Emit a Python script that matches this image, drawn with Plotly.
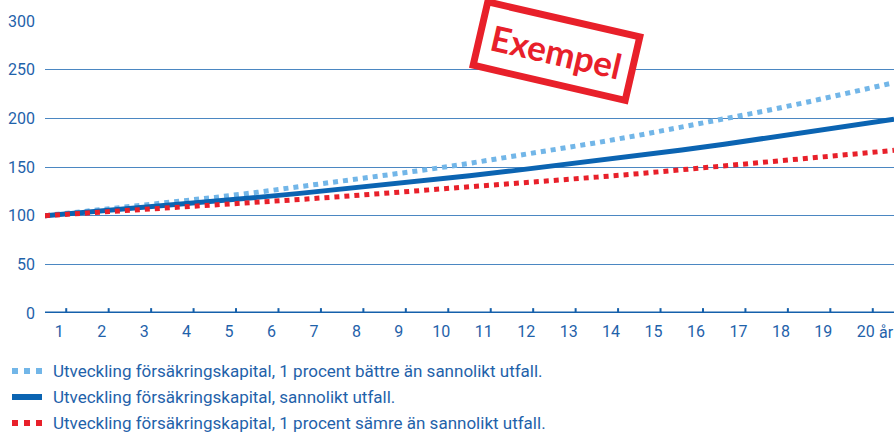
import plotly.graph_objects as go

years = list(range(0, 21))
better = [100, 104.4, 109.0, 113.8, 118.8, 124.0, 129.5, 135.2, 141.1, 147.3, 153.8,
          160.6, 167.6, 175.0, 182.7, 190.8, 199.1, 207.9, 217.1, 226.6, 236.6]
likely = [100, 103.5, 107.1, 110.9, 114.8, 118.8, 122.9, 127.2, 131.7, 136.3, 141.1,
          146.0, 151.1, 156.4, 161.9, 167.5, 173.4, 179.5, 185.7, 192.2, 199.0]
worse = [100, 102.6, 105.3, 108.0, 110.8, 113.7, 116.6, 119.7, 122.8, 126.0, 129.3,
         132.6, 136.1, 139.6, 143.2, 147.0, 150.8, 154.7, 158.7, 162.8, 167.1]
tick_labels = [str(i) for i in range(1, 21)]
tick_pos = [i + 0.5 for i in range(20)]
y_ticks = [0, 50, 100, 150, 200, 250, 300]

names = ["Utveckling försäkringskapital, 1 procent bättre än sannolikt utfall.",
         "Utveckling försäkringskapital, sannolikt utfall.",
         "Utveckling försäkringskapital, 1 procent sämre än sannolikt utfall."]
series = [better, likely, worse]
colors = ["#72b6e8", "#0b64b2", "#e8202a"]
dashes = ["5px,5px", "solid", "5px,5px"]
legend_dashes = ["6px,6px", "solid", "6px,6px"]

TXT = "#1f62aa"
W, H = 895, 433
L, R, T, B = 45, 1, 21, 120
PW, PH = W - L - R, H - T - B


def px_x(px):
    return (px - L) / PW


def px_y(py):
    return (H - B - py) / PH


fig = go.Figure()
for name, vals, col, dsh in zip(names, series, colors, dashes):
    fig.add_trace(go.Scatter(x=years, y=vals, mode="lines", name=name,
                             line=dict(color=col, width=5, dash=dsh)))

fig.update_layout(
    width=W, height=H,
    margin=dict(l=L, r=R, t=T, b=B),
    paper_bgcolor="white", plot_bgcolor="white",
    font=dict(family="Roboto", size=16, color=TXT),
    showlegend=False,
    xaxis=dict(range=[0, 20], tickvals=tick_pos, ticktext=tick_labels,
               showgrid=False, zeroline=False, showline=False, automargin=False,
               ticks="", ticklabelshift=-7, ticklabelstandoff=7, tickangle=0,
               tickfont=dict(size=16, color=TXT), fixedrange=True),
    yaxis=dict(range=[0, 300], tickvals=y_ticks, showgrid=True, automargin=False,
               gridcolor="#4b87c2", gridwidth=1, zeroline=False, showline=False,
               ticks="", ticklabelstandoff=9,
               tickfont=dict(size=16, color=TXT), fixedrange=True),
)

# x axis baseline with inside tick marks
fig.add_shape(type="line", xref="paper", yref="y", x0=0, x1=1, y0=0, y1=0,
              line=dict(color="#1560ab", width=3), layer="above")
for p in tick_pos:
    fig.add_shape(type="line", xref="x", yref="y", x0=p, x1=p, y0=0, y1=5,
                  line=dict(color="#1560ab", width=2), layer="above")

fig.add_annotation(xref="paper", yref="paper", x=px_x(877), y=0, yshift=-19,
                   xanchor="left", yanchor="middle", text="år", showarrow=False,
                   font=dict(size=16, color=TXT))

# legend drawn below the chart
for i, (name, col, dsh) in enumerate(zip(names, colors, legend_dashes)):
    yc = 371 + 26 * i
    fig.add_shape(type="line", xref="paper", yref="paper",
                  x0=px_x(12), x1=px_x(42), y0=px_y(yc), y1=px_y(yc),
                  line=dict(color=col, width=6, dash=dsh))
    fig.add_annotation(xref="paper", yref="paper", x=px_x(51), y=px_y(yc),
                       xanchor="left", yanchor="middle", text=name,
                       showarrow=False, font=dict(size=17, color=TXT))

fig.add_annotation(xref="paper", yref="paper",
                   x=px_x(556), y=px_y(51),
                   xanchor="center", yanchor="middle",
                   text="<b>Exempel</b>", showarrow=False, textangle=13,
                   font=dict(family="Lato", size=35, color="#e8202a"),
                   bordercolor="#e8202a", borderwidth=7, borderpad=8,
                   bgcolor="white")

fig.write_html("out.html", config={"displayModeBar": False},
               post_script="document.body.style.margin='0';"
                           "document.body.style.overflow='hidden';")
